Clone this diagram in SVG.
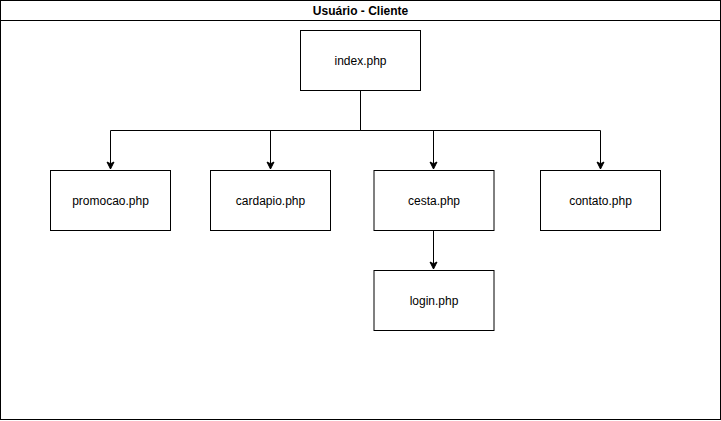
<svg xmlns="http://www.w3.org/2000/svg" width="721" height="421" viewBox="0 0 721 421">
<style>
.box{fill:#fff;stroke:#000;stroke-width:1}
.t{font-family:"Liberation Sans",Arial,sans-serif;font-size:12px;fill:#000;text-anchor:middle;dominant-baseline:central}
.edge{fill:none;stroke:#000;stroke-width:1}
</style>
<defs>
<marker id="arr" markerWidth="10" markerHeight="10" refX="8" refY="5" orient="auto" markerUnits="userSpaceOnUse">
<path d="M1,1.5 L8,5 L1,8.5 L2.75,5 Z" fill="#000" stroke="#000" stroke-width="1"/>
</marker>
</defs>
<g id="container">
<rect class="box" x="0.5" y="0.5" width="720" height="419"/>
<line x1="0.5" y1="20.5" x2="720.5" y2="20.5" stroke="#000"/>
<text class="t" x="360.5" y="10.5" font-weight="bold">Usuário - Cliente</text>
</g>
<g id="connectors">
<path class="edge" d="M360.5,90.5 V130.5 H110.5 V169" marker-end="url(#arr)"/>
<path class="edge" d="M360.5,130.5 H270.5 V169" marker-end="url(#arr)"/>
<path class="edge" d="M360.5,130.5 H433.5 V169" marker-end="url(#arr)"/>
<path class="edge" d="M360.5,130.5 H600.5 V169" marker-end="url(#arr)"/>
<path class="edge" d="M433.5,230.5 V269" marker-end="url(#arr)"/>
</g>
<g id="index"><rect class="box" x="300.5" y="30.5" width="120" height="60"/><text class="t" x="360.5" y="60.5">index.php</text></g>
<g id="promocao"><rect class="box" x="50.5" y="170.5" width="120" height="60"/><text class="t" x="110.5" y="200.5">promocao.php</text></g>
<g id="cardapio"><rect class="box" x="210.5" y="170.5" width="120" height="60"/><text class="t" x="270.5" y="200.5">cardapio.php</text></g>
<g id="cesta"><rect class="box" x="374" y="170.5" width="120" height="60"/><text class="t" x="434" y="200.5">cesta.php</text></g>
<g id="contato"><rect class="box" x="540.5" y="170.5" width="120" height="60"/><text class="t" x="600.5" y="200.5">contato.php</text></g>
<g id="login"><rect class="box" x="374" y="270.5" width="120" height="60"/><text class="t" x="434" y="300.5">login.php</text></g>
</svg>
